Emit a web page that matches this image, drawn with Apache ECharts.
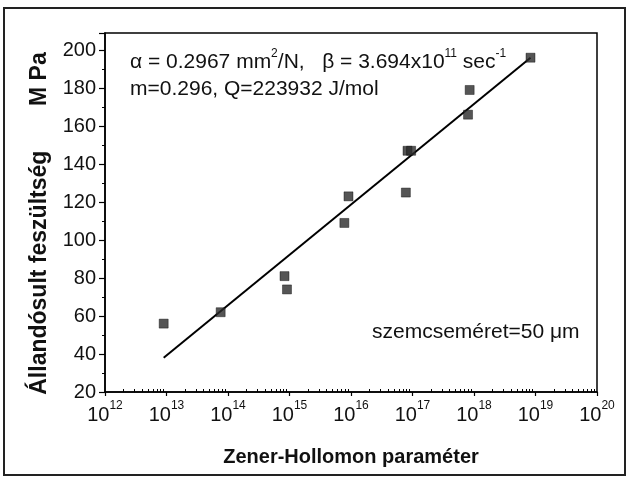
<!DOCTYPE html>
<html>
<head>
<meta charset="utf-8">
<title></title>
<style>
  html, body { margin: 0; padding: 0; background: #fff; }
  #chart { width: 629px; height: 479px; }
</style>
</head>
<body>
<div id="chart"></div>
<script src="https://cdn.jsdelivr.net/npm/echarts@6/dist/echarts.min.js"></script>
<script type="text/javascript">
// measured points: Zener-Hollomon parameter vs steady state stress (MPa)
var zValues = [9e12, 7.6e13, 8.3e14, 9.1e14, 7.8e15, 9.1e15, 7.8e16, 8.3e16, 9.5e16, 8.0e17, 8.5e17, 8.3e18];
var stressValues = [56, 62, 81, 74, 109, 123, 125, 147, 147, 166, 179, 196];

// fitted line end points
var fitZ = [9e12, 8.3e18];
var fitStress = [38, 196];

// axis ticks
var xDecades = [12, 13, 14, 15, 16, 17, 18, 19, 20];
var yTicks = [20, 40, 60, 80, 100, 120, 140, 160, 180, 200];

var font = '"Liberation Sans", Arial, sans-serif';

// minor log ticks 2..9 in every decade
var minorX = [];
for (var d = 0; d < xDecades.length - 1; d++) {
  for (var k = 2; k <= 9; k++) {
    minorX.push(xDecades[d] + Math.log10(k));
  }
}

var pts = zValues.map(function (z, i) { return [Math.log10(z), stressValues[i]]; });
var fit = fitZ.map(function (z, i) { return [Math.log10(z), fitStress[i]]; });

var chart = echarts.init(document.getElementById('chart'), null, {renderer: 'canvas'});
chart.setOption({
  backgroundColor: '#fff',
  animation: false,
  textStyle: {fontFamily: font},
  grid: {
    left: 105, top: 33, right: 32, bottom: 87,
    show: true, borderColor: '#000', borderWidth: 1.5, backgroundColor: '#fff'
  },
  xAxis: [{
    type: 'value',
    min: xDecades[0],
    max: xDecades[xDecades.length - 1],
    interval: 1,
    splitLine: {show: false},
    axisLine: {show: true, lineStyle: {color: '#000', width: 1.5}},
    axisTick: {show: true, inside: false, length: 4, lineStyle: {color: '#000', width: 1.2}},
    axisLabel: {
      margin: 8,
      formatter: function (v) { return '{b|10}{s|' + Math.round(v) + '}'; },
      rich: {
        b: {fontSize: 20, lineHeight: 30, color: '#111', fontFamily: font},
        s: {fontSize: 12, lineHeight: 12, verticalAlign: 'top', color: '#111', fontFamily: font}
      }
    },
    name: 'Zener-Hollomon paraméter',
    nameLocation: 'middle',
    nameGap: 55,
    nameTextStyle: {fontSize: 20, fontWeight: 'bold', color: '#111', fontFamily: font}
  }, {
    type: 'value',
    gridIndex: 0,
    position: 'bottom',
    min: xDecades[0],
    max: xDecades[xDecades.length - 1],
    splitLine: {show: false},
    axisLine: {show: false},
    axisLabel: {show: false},
    axisTick: {show: true, inside: true, length: 3, customValues: minorX, lineStyle: {color: '#000', width: 1}}
  }],
  yAxis: {
    type: 'value',
    min: yTicks[0],
    max: 209,
    interval: 20,
    splitLine: {show: false},
    axisLine: {show: true, lineStyle: {color: '#000', width: 1.5}},
    axisTick: {show: true, length: 6, lineStyle: {color: '#000', width: 1.2}},
    minorTick: {show: true, splitNumber: 2, length: 3, lineStyle: {color: '#000', width: 1}},
    axisLabel: {
      margin: 9,
      fontSize: 20, color: '#111', fontFamily: font,
      formatter: function (v) { return yTicks.indexOf(v) >= 0 ? String(v) : ''; }
    },
    name: 'Állandósult feszültség       M Pa',
    nameLocation: 'middle',
    nameGap: 54,
    nameTextStyle: {fontSize: 23, fontWeight: 'bold', color: '#111', fontFamily: font, padding: [0, 22, 0, 0]}
  },
  graphic: [{
    type: 'rect',
    silent: true,
    shape: {x: 4, y: 8, width: 621, height: 467},
    style: {fill: null, stroke: '#222', lineWidth: 2}
  }, {
    type: 'text',
    left: 130, top: 48,
    style: {
      text: '{t|α = 0.2967 mm}{s|2}{t|/N,   β = 3.694x10}{s|11}{t| sec}{s|-1}',
      rich: {
        t: {fontSize: 21, lineHeight: 28, fill: '#111', fontFamily: font},
        s: {fontSize: 12, lineHeight: 12, verticalAlign: 'top', fill: '#111', fontFamily: font}
      }
    }
  }, {
    type: 'text',
    left: 130, top: 79,
    style: {text: 'm=0.296, Q=223932 J/mol', fontSize: 21, fill: '#111', fontFamily: font}
  }, {
    type: 'text',
    left: 372, top: 322,
    style: {text: 'szemcseméret=50 μm', fontSize: 21, fill: '#111', fontFamily: font}
  }],
  series: [{
    type: 'line',
    data: fit,
    symbol: 'none',
    lineStyle: {color: '#000', width: 2},
    z: 2
  }, {
    type: 'scatter',
    data: pts,
    symbol: 'rect',
    symbolSize: 9,
    itemStyle: {color: '#2a2a2a', borderColor: '#000', borderWidth: 0.5},
    z: 3
  }]
});
</script>
</body>
</html>
